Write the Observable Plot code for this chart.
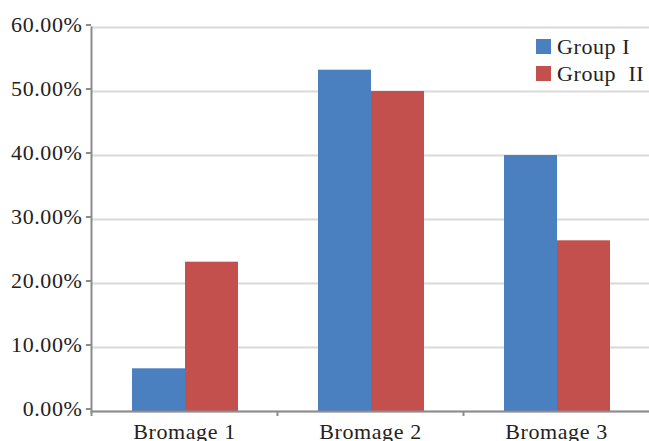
<!DOCTYPE html>
<html>
<head>
<meta charset="utf-8">
<script src="https://cdn.jsdelivr.net/npm/d3@7"></script>
<script src="https://cdn.jsdelivr.net/npm/@observablehq/plot@0.6"></script>
<style>
  html, body { margin: 0; padding: 0; background: #fff; }
  #wrap { position: relative; width: 649px; height: 441px; overflow: hidden; }
  #legend { position: absolute; left: 536px; top: 33px; font-family: "Liberation Serif", "Times New Roman", serif; font-size: 22px; letter-spacing: 0.6px; color: #222; }
  .row { display: flex; align-items: center; height: 27px; }
  .sw { width: 15px; height: 15px; margin-right: 6px; }
</style>
</head>
<body>
<div id="wrap"></div>
<script>
const categories = ["Bromage 1", "Bromage 2", "Bromage 3"];
const groups = ["Group I", "Group  II"];
const groupI = [6.67, 53.33, 40.00];
const groupII = [23.33, 50.00, 26.67];
const yTicks = [0, 10, 20, 30, 40, 50, 60];
const colors = ["#4a7fc0", "#c4504e"];

const dataI = categories.map((c, i) => ({category: c, value: groupI[i]}));
const dataII = categories.map((c, i) => ({category: c, value: groupII[i]}));

const font = "'Liberation Serif', 'Times New Roman', serif";

const chart = Plot.plot({
  width: 649,
  height: 441,
  marginTop: 27,
  marginBottom: 30,
  marginLeft: 91,
  marginRight: 0,
  style: {fontFamily: font, fontSize: "22px", letterSpacing: "0.6px", color: "#222", background: "#fff", overflow: "visible"},
  x: {domain: categories, padding: 0, axis: null},
  y: {domain: [0, 60], axis: null},
  marks: [
    Plot.gridY(yTicks, {stroke: "#d9d9d9", strokeOpacity: 1, strokeWidth: 2}),
    Plot.barY(dataI, {x: "category", y: "value", fill: colors[0], insetLeft: 41, insetRight: 92}),
    Plot.barY(dataII, {x: "category", y: "value", fill: colors[1], insetLeft: 94, insetRight: 39}),
    Plot.ruleY([0], {stroke: "#8c8c8c", strokeWidth: 2}),
    Plot.frame({anchor: "left", stroke: "#8c8c8c", strokeWidth: 2}),
    Plot.axisY({ticks: yTicks, tickSize: 5, tickPadding: 4, stroke: "#8c8c8c", strokeWidth: 2, dy: -2.5,
      tickFormat: d => d.toFixed(2) + "%", fontSize: 22, fill: "#222", label: null}),
    Plot.axisX({tickSize: 5, text: null, dx: -93, stroke: "#8c8c8c", strokeWidth: 2, label: null}),
    Plot.axisX({tickSize: 0, tickPadding: 12, fontSize: 22, fill: "#222", label: null})
  ]
});

const wrap = document.getElementById("wrap");
wrap.appendChild(chart);

const legend = document.createElement("div");
legend.id = "legend";
groups.forEach((g, i) => {
  const row = document.createElement("div");
  row.className = "row";
  const sw = document.createElement("div");
  sw.className = "sw";
  sw.style.background = colors[i];
  const t = document.createElement("span");
  t.style.whiteSpace = "pre";
  t.textContent = g;
  row.appendChild(sw);
  row.appendChild(t);
  legend.appendChild(row);
});
wrap.appendChild(legend);
</script>
</body>
</html>
